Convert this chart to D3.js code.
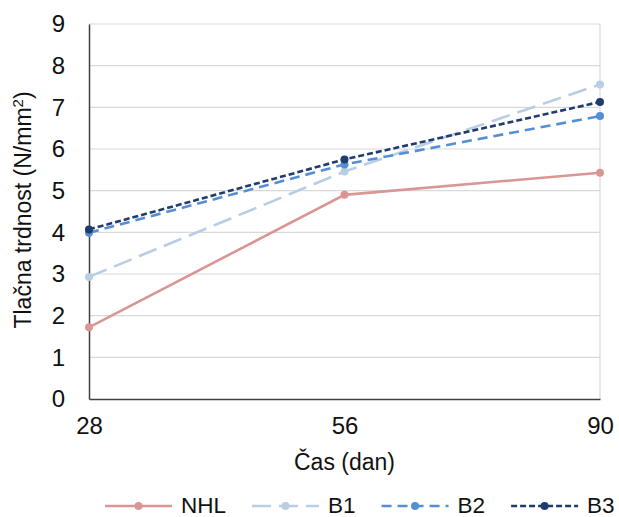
<!DOCTYPE html>
<html><head><meta charset="utf-8">
<script src="https://cdn.jsdelivr.net/npm/d3@7"></script>
<style>body{margin:0;background:#fff}svg{display:block;font-family:"Liberation Sans",Arial,sans-serif}</style>
</head><body><svg id="c" width="619" height="517"></svg>
<script>
const categories = ["28", "56", "90"];
const yTicks = [0,1,2,3,4,5,6,7,8,9];
const seriesNames = ["NHL", "B1", "B2", "B3"];
const nhl = [1.72, 4.90, 5.43];
const b1  = [2.93, 5.46, 7.55];
const b2  = [3.99, 5.63, 6.79];
const b3  = [4.07, 5.75, 7.13];
const colors = ["#da9694", "#b9cde5", "#558ed5", "#1f3c6e"];
const dashes = [null, "19,8", "10,6", "6,3"];
const xTitle = "Čas (dan)";
const yTitle = "Tlačna trdnost (N/mm";

const series = [nhl, b1, b2, b3].map((v,i)=>({name:seriesNames[i], values:v, color:colors[i], dash:dashes[i]}));

const svg = d3.select("#c");
const L=89, R=600, T=24, B=399;
const x = d3.scalePoint().domain(categories).range([L,R]).padding(0);
const y = d3.scaleLinear().domain([0,9]).range([B,T]);

// gridlines
svg.append("g").selectAll("line").data(yTicks.filter(d=>d>0)).join("line")
  .attr("x1",L).attr("x2",R).attr("y1",d=>y(d)).attr("y2",d=>y(d))
  .attr("stroke","#d9d9d9").attr("stroke-width",1.2);
svg.append("line").attr("x1",R).attr("x2",R).attr("y1",T).attr("y2",B).attr("stroke","#d9d9d9").attr("stroke-width",1.2);

// y axis
const ya = svg.append("g").attr("transform",`translate(${L},0)`).call(d3.axisLeft(y).tickValues(yTicks).tickSize(0).tickPadding(24));
ya.select(".domain").attr("stroke","#404040").attr("stroke-width",1.5);
ya.selectAll("text").attr("font-size",24).attr("fill","#111").attr("font-family","Liberation Sans, Arial, sans-serif");

// x axis
const xa = svg.append("g").attr("transform",`translate(0,${B})`).call(d3.axisBottom(x).tickSize(0).tickPadding(18));
xa.select(".domain").attr("stroke","#404040").attr("stroke-width",1.5);
xa.selectAll("text").attr("font-size",24).attr("fill","#111").attr("font-family","Liberation Sans, Arial, sans-serif");

// titles
svg.append("text").attr("x",(L+R)/2).attr("y",470).attr("text-anchor","middle")
  .attr("font-size",23).attr("fill","#111").text(xTitle);
const yt = svg.append("text").attr("transform","translate(31,210) rotate(-90)").attr("text-anchor","middle")
  .attr("font-size",23).attr("fill","#111");
yt.append("tspan").text(yTitle);
yt.append("tspan").attr("font-size",15).attr("dy",-8).text("2");
yt.append("tspan").attr("dy",8).text(")");

// lines
const line = d3.line().x((d,i)=>x(categories[i])).y(d=>y(d));
const g = svg.append("g");
series.forEach(s=>{
  g.append("path").datum(s.values).attr("d",line).attr("fill","none")
    .attr("stroke",s.color).attr("stroke-width",2.6).attr("stroke-dasharray",s.dash);
});
series.forEach(s=>{
  g.selectAll(null).data(s.values).join("circle")
    .attr("cx",(d,i)=>x(categories[i])).attr("cy",d=>y(d)).attr("r",4).attr("fill",s.color);
});

// legend
const lg = svg.append("g");
let lx = 105; const ly = 506;
series.forEach(s=>{
  lg.append("line").attr("x1",lx).attr("x2",lx+67).attr("y1",ly).attr("y2",ly)
    .attr("stroke",s.color).attr("stroke-width",2.6).attr("stroke-dasharray",s.dash);
  lg.append("circle").attr("cx",lx+33.5).attr("cy",ly).attr("r",4).attr("fill",s.color);
  const t = lg.append("text").attr("x",lx+76).attr("y",512.5).attr("font-size",22.5).attr("fill","#111").text(s.name);
  lx = lx + 76 + t.node().getComputedTextLength() + 26;
});
</script></body></html>
